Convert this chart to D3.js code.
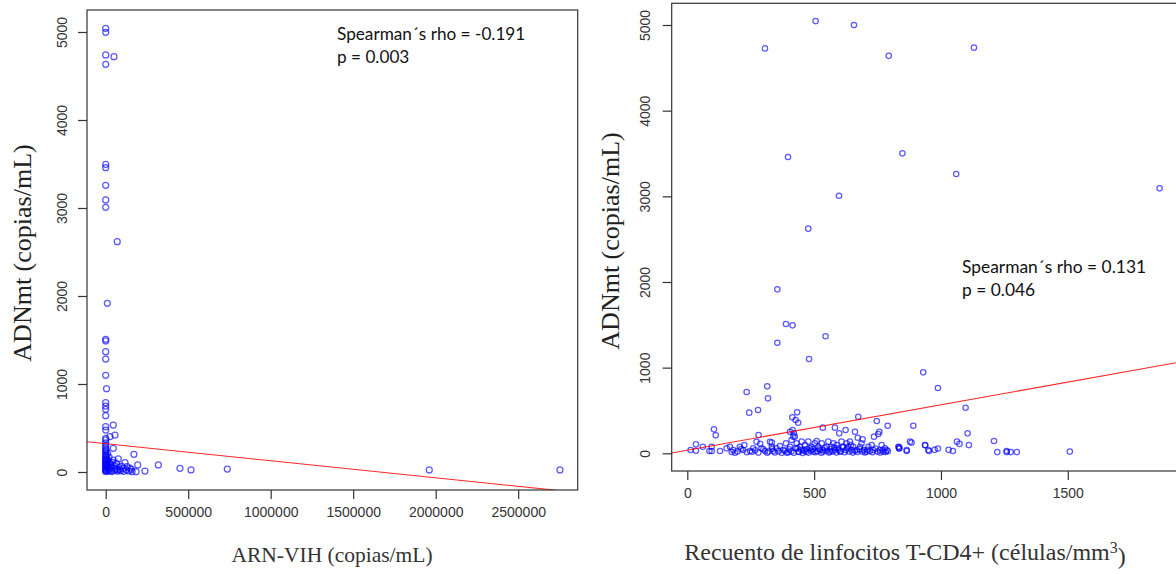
<!DOCTYPE html>
<html>
<head>
<meta charset="utf-8">
<script src="https://cdn.jsdelivr.net/npm/d3@7/dist/d3.min.js"></script>
<style>
  html, body { margin: 0; padding: 0; background: #fff; }
  svg { display: block; }
</style>
</head>
<body>
<svg id="chart" width="1176" height="574"></svg>
<script>
// ---------- DATA ----------
// Left panel: ARN-VIH (copias/mL) vs ADNmt (copias/mL)
const vihPoints = [
  [0,5042],[0,4997],[0,4739],[50000,4720],[0,4633],[0,3497],[0,3458],[0,3258],[0,3091],[0,3008],
  [70000,2617],[10000,1917],[0,1508],[0,1489],[0,1367],[0,1284],[0,1099],[5000,947],[0,788],[0,750],
  [0,712],[0,640],[46000,534],[0,515],[0,477],[56000,420],[26000,402],[0,383],[0,364],[46000,269],
  [171000,201],[319000,80],[450000,42],[517000,23],[737000,34],[238000,11],[194000,80],[184000,3],
  [1961000,23],[2753000,23],
  [76000,148],[117000,106],[147000,45],[97000,68],[67000,23],[26000,102],[45000,136],
  [0,330],[0,300],[0,280],[0,255],[0,230],[0,210],[0,190],[0,170],[0,150],[0,135],[0,120],[0,105],
  [0,90],[0,75],[0,60],[0,45],[0,30],[0,15],[0,5],
  [3000,250],[5000,180],[8000,140],[4000,100],[6000,60],[2000,20],[10000,40],[12000,90],[15000,10],
  [18000,120],[20000,60],[22000,30],[28000,15],[30000,80],[35000,45],[38000,5],[40000,110],[52000,20],
  [55000,70],[60000,40],[65000,100],[72000,10],[80000,55],[85000,30],[90000,15],[105000,40],[110000,8],
  [125000,25],[130000,60],[140000,12],[155000,30],[160000,5],[20000,170],[12000,210]
];
// Right panel: Recuento de linfocitos T-CD4+ vs ADNmt
const cd4Points = [
  [306,4727],[506,5046],[657,5000],[794,4640],[1130,4735],[397,3459],[848,3502],[1060,3260],[598,3007],
  [477,2622],[1862,3093],[355,1914],[389,1509],[415,1494],[545,1366],[355,1291],[480,1101],[930,945],
  [988,762],[234,716],[315,782],[318,642],[244,474],[279,505],[433,478],[414,420],[437,357],[427,389],
  [105,280],[112,210],[281,213],[534,299],[582,299],[624,272],[599,233],[674,427],[661,252],[747,377],
  [757,252],[790,322],[672,182],[691,163],[736,194],[753,225],[405,252],[415,270],[418,194],[333,124],
  [1097,532],[891,322],[1105,233],[1209,144],[884,124],[1063,136],[1073,110],[938,93],[1110,96],
  [835,72],[835,55],[865,27],[953,27],[975,40],[988,55],[1030,40],[1047,27],[1222,14],[1259,27],
  [1259,14],[1275,14],[1299,14],[1508,20],
  [225,97],[34,105],[61,77],[96,77],[13,38],[34,30],[87,27],[96,27],[129,27],[155,58],[168,77],
  [181,38],[188,7],[207,77],[220,38],[247,27],[260,58],[273,135],[287,112],[293,58],[306,27],[315,7],
  [326,135],[333,77],[339,27],
  [352,58],[365,85],[378,38],[389,116],[392,7],[405,77],[411,155],[420,233],[424,194],[431,116],
  [434,58],[438,19],[444,77],[451,136],[457,38],[464,97],[470,19],[477,136],[484,58],[490,77],
  [497,19],[503,116],[510,144],[516,77],[523,38],[530,116],[536,38],[549,77],[556,136],[563,19],
  [569,77],[576,116],[582,38],[589,97],[595,58],[602,19],[608,136],[615,77],[625,38],[628,116],
  [635,77],[641,136],[648,38],[654,77],[668,38],[681,77],[687,116],[696,38],[707,19],[714,77],
  [727,97],[733,38],[759,38],[766,97],[773,19],[779,58],[786,38],[832,77],[836,58],[865,38],
  [878,136],[937,97],[950,38],
  [345,10],[360,25],[372,5],[385,30],[398,12],[402,45],[410,22],[420,5],[428,60],[440,15],[448,42],
  [455,3],[462,28],[470,50],[478,8],[488,33],[495,48],[505,12],[512,25],[520,55],[528,5],[535,18],
  [542,62],[550,30],[558,8],[565,45],[573,22],[580,65],[588,10],[596,40],[605,25],[612,70],[620,12],
  [630,55],[638,20],[645,95],[652,8],[660,30],[670,15],[680,48],[690,22],[700,10],[710,42],[720,28],
  [730,12],[742,55],[750,20],[760,8],[770,35],[782,15],[790,25],[175,15],[198,22],[212,50],[235,12],
  [255,18],[268,35],[280,8],[300,45],[320,20],[335,50]
];
const vihTicks = [0, 500000, 1000000, 1500000, 2000000, 2500000];
const cd4Ticks = [0, 500, 1000, 1500];
const adnTicks = [0, 1000, 2000, 3000, 4000, 5000];
// fitted lines: [intercept, slope]
const vihFit = [322, -0.000194];
const cd4Fit = [36, 0.53];
const vihStats = ["Spearman´s rho = -0.191", "p = 0.003"];
const cd4Stats = ["Spearman´s rho = 0.131", "p = 0.046"];
const yTitle = "ADNmt (copias/mL)";
const vihTitle = "ARN-VIH (copias/mL)";

// ---------- DRAW ----------
const svg = d3.select("#chart");
const ptColor = "rgba(0,0,255,0.65)";
const axisColor = "#333";

function panel(cfg) {
  const g = svg.append("g");
  const x = d3.scaleLinear().domain(cfg.xDom).range(cfg.xRange);
  const y = d3.scaleLinear().domain([0, 5000]).range(cfg.yRange);
  const b = cfg.box; // [left, top, right, bottom]
  const clipId = "clip" + cfg.id;
  svg.append("defs").append("clipPath").attr("id", clipId)
    .append("rect").attr("x", b[0]).attr("y", b[1]).attr("width", b[2]-b[0]).attr("height", b[3]-b[1]);

  // points
  g.append("g").attr("clip-path", `url(#${clipId})`)
    .selectAll("circle").data(cfg.points).join("circle")
    .attr("cx", d => x(d[0])).attr("cy", d => y(d[1]))
    .attr("r", cfg.r).attr("fill", "none")
    .attr("stroke", ptColor).attr("stroke-width", 1.25);

  // regression line
  const x0 = x.invert(b[0]), x1 = x.invert(b[2] + 60);
  g.append("line").attr("clip-path", `url(#${clipId})`)
    .attr("x1", x(x0)).attr("y1", y(cfg.fit[0] + cfg.fit[1]*x0))
    .attr("x2", x(x1)).attr("y2", y(cfg.fit[0] + cfg.fit[1]*x1))
    .attr("stroke", "rgba(255,0,0,0.85)").attr("stroke-width", 1.1);

  // box
  g.append("rect").attr("x", b[0]).attr("y", b[1])
    .attr("width", b[2]-b[0]).attr("height", b[3]-b[1])
    .attr("fill", "none").attr("stroke", axisColor).attr("stroke-width", 1.2);

  // x axis
  const xa = d3.axisBottom(x).tickValues(cfg.xTicks).tickSize(9).tickPadding(8)
    .tickFormat(d3.format("d"));
  const xg = g.append("g").attr("transform", `translate(0,${b[3]})`).call(xa);
  xg.select(".domain").remove();
  xg.selectAll(".tick line").attr("stroke", axisColor).attr("stroke-width", 1.2);
  xg.selectAll(".tick text").attr("fill", axisColor)
    .style("font-family", "Arial, 'Liberation Sans', sans-serif").style("font-size", "14px");

  // y axis (rotated labels like R)
  const ya = d3.axisLeft(y).tickValues(adnTicks).tickSize(9).tickFormat(d3.format("d"));
  const yg = g.append("g").attr("transform", `translate(${b[0]},0)`).call(ya);
  yg.select(".domain").remove();
  yg.selectAll(".tick line").attr("stroke", axisColor).attr("stroke-width", 1.2);
  yg.selectAll(".tick text").attr("fill", axisColor)
    .attr("x", null).attr("dy", null)
    .attr("transform", `translate(${cfg.yLabX - b[0]},0) rotate(-90)`)
    .attr("text-anchor", "middle").attr("dy", "0.36em")
    .style("font-family", "Arial, 'Liberation Sans', sans-serif").style("font-size", "14px");

  // y title
  g.append("text").attr("transform", `translate(${cfg.yTitlePos[0]},${cfg.yTitlePos[1]}) rotate(-90)`)
    .attr("text-anchor", "middle").attr("dy", "0.35em")
    .attr("fill", "#222")
    .style("font-family", "'Liberation Serif', 'Times New Roman', serif")
    .style("font-size", cfg.yTitleSize + "px")
    .text(yTitle);

  // x title
  const xt = g.append("text").attr("x", cfg.xTitlePos[0]).attr("y", cfg.xTitlePos[1])
    .attr("text-anchor", "middle").attr("fill", "#333")
    .style("font-family", "'Liberation Serif', 'Times New Roman', serif")
    .style("font-size", cfg.xTitleSize + "px");
  cfg.xTitle(xt);

  // stats annotation
  g.append("g").selectAll("text").data(cfg.stats).join("text")
    .attr("x", cfg.statPos[0]).attr("y", (d, i) => cfg.statPos[1] + i * 23)
    .attr("fill", "#111")
    .style("font-family", "Lato, 'Open Sans', sans-serif").style("font-size", cfg.statSize + "px")
    .text(d => d);
}

panel({
  id: "L", points: vihPoints, fit: vihFit, stats: vihStats,
  xDom: [0, 2500000], xRange: [105.7, 518.2], yRange: [472, 32],
  box: [87, 10, 577.7, 490], xTicks: vihTicks, r: 3,
  yLabX: 62, yTitlePos: [22, 253], yTitleSize: 26,
  xTitlePos: [332, 562], xTitleSize: 21.5,
  xTitle: t => t.text(vihTitle),
  statPos: [337, 40], statSize: 17.2
});

panel({
  id: "R", points: cd4Points, fit: cd4Fit, stats: cd4Stats,
  xDom: [0, 1500], xRange: [687.3, 1067.8], yRange: [453.3, 25],
  box: [671.7, 3.3, 1190, 471], xTicks: cd4Ticks, r: 2.7,
  yLabX: 645, yTitlePos: [610, 241], yTitleSize: 26,
  xTitlePos: [905, 560], xTitleSize: 24,
  xTitle: t => {
    t.append("tspan").text("Recuento de linfocitos T-CD4+ (células/mm");
    t.append("tspan").attr("dy", "-0.45em").style("font-size", "16px").text("3");
    t.append("tspan").attr("dy", "0.45em").text(")");
  },
  statPos: [962, 273], statSize: 17.4
});
</script>
</body>
</html>
